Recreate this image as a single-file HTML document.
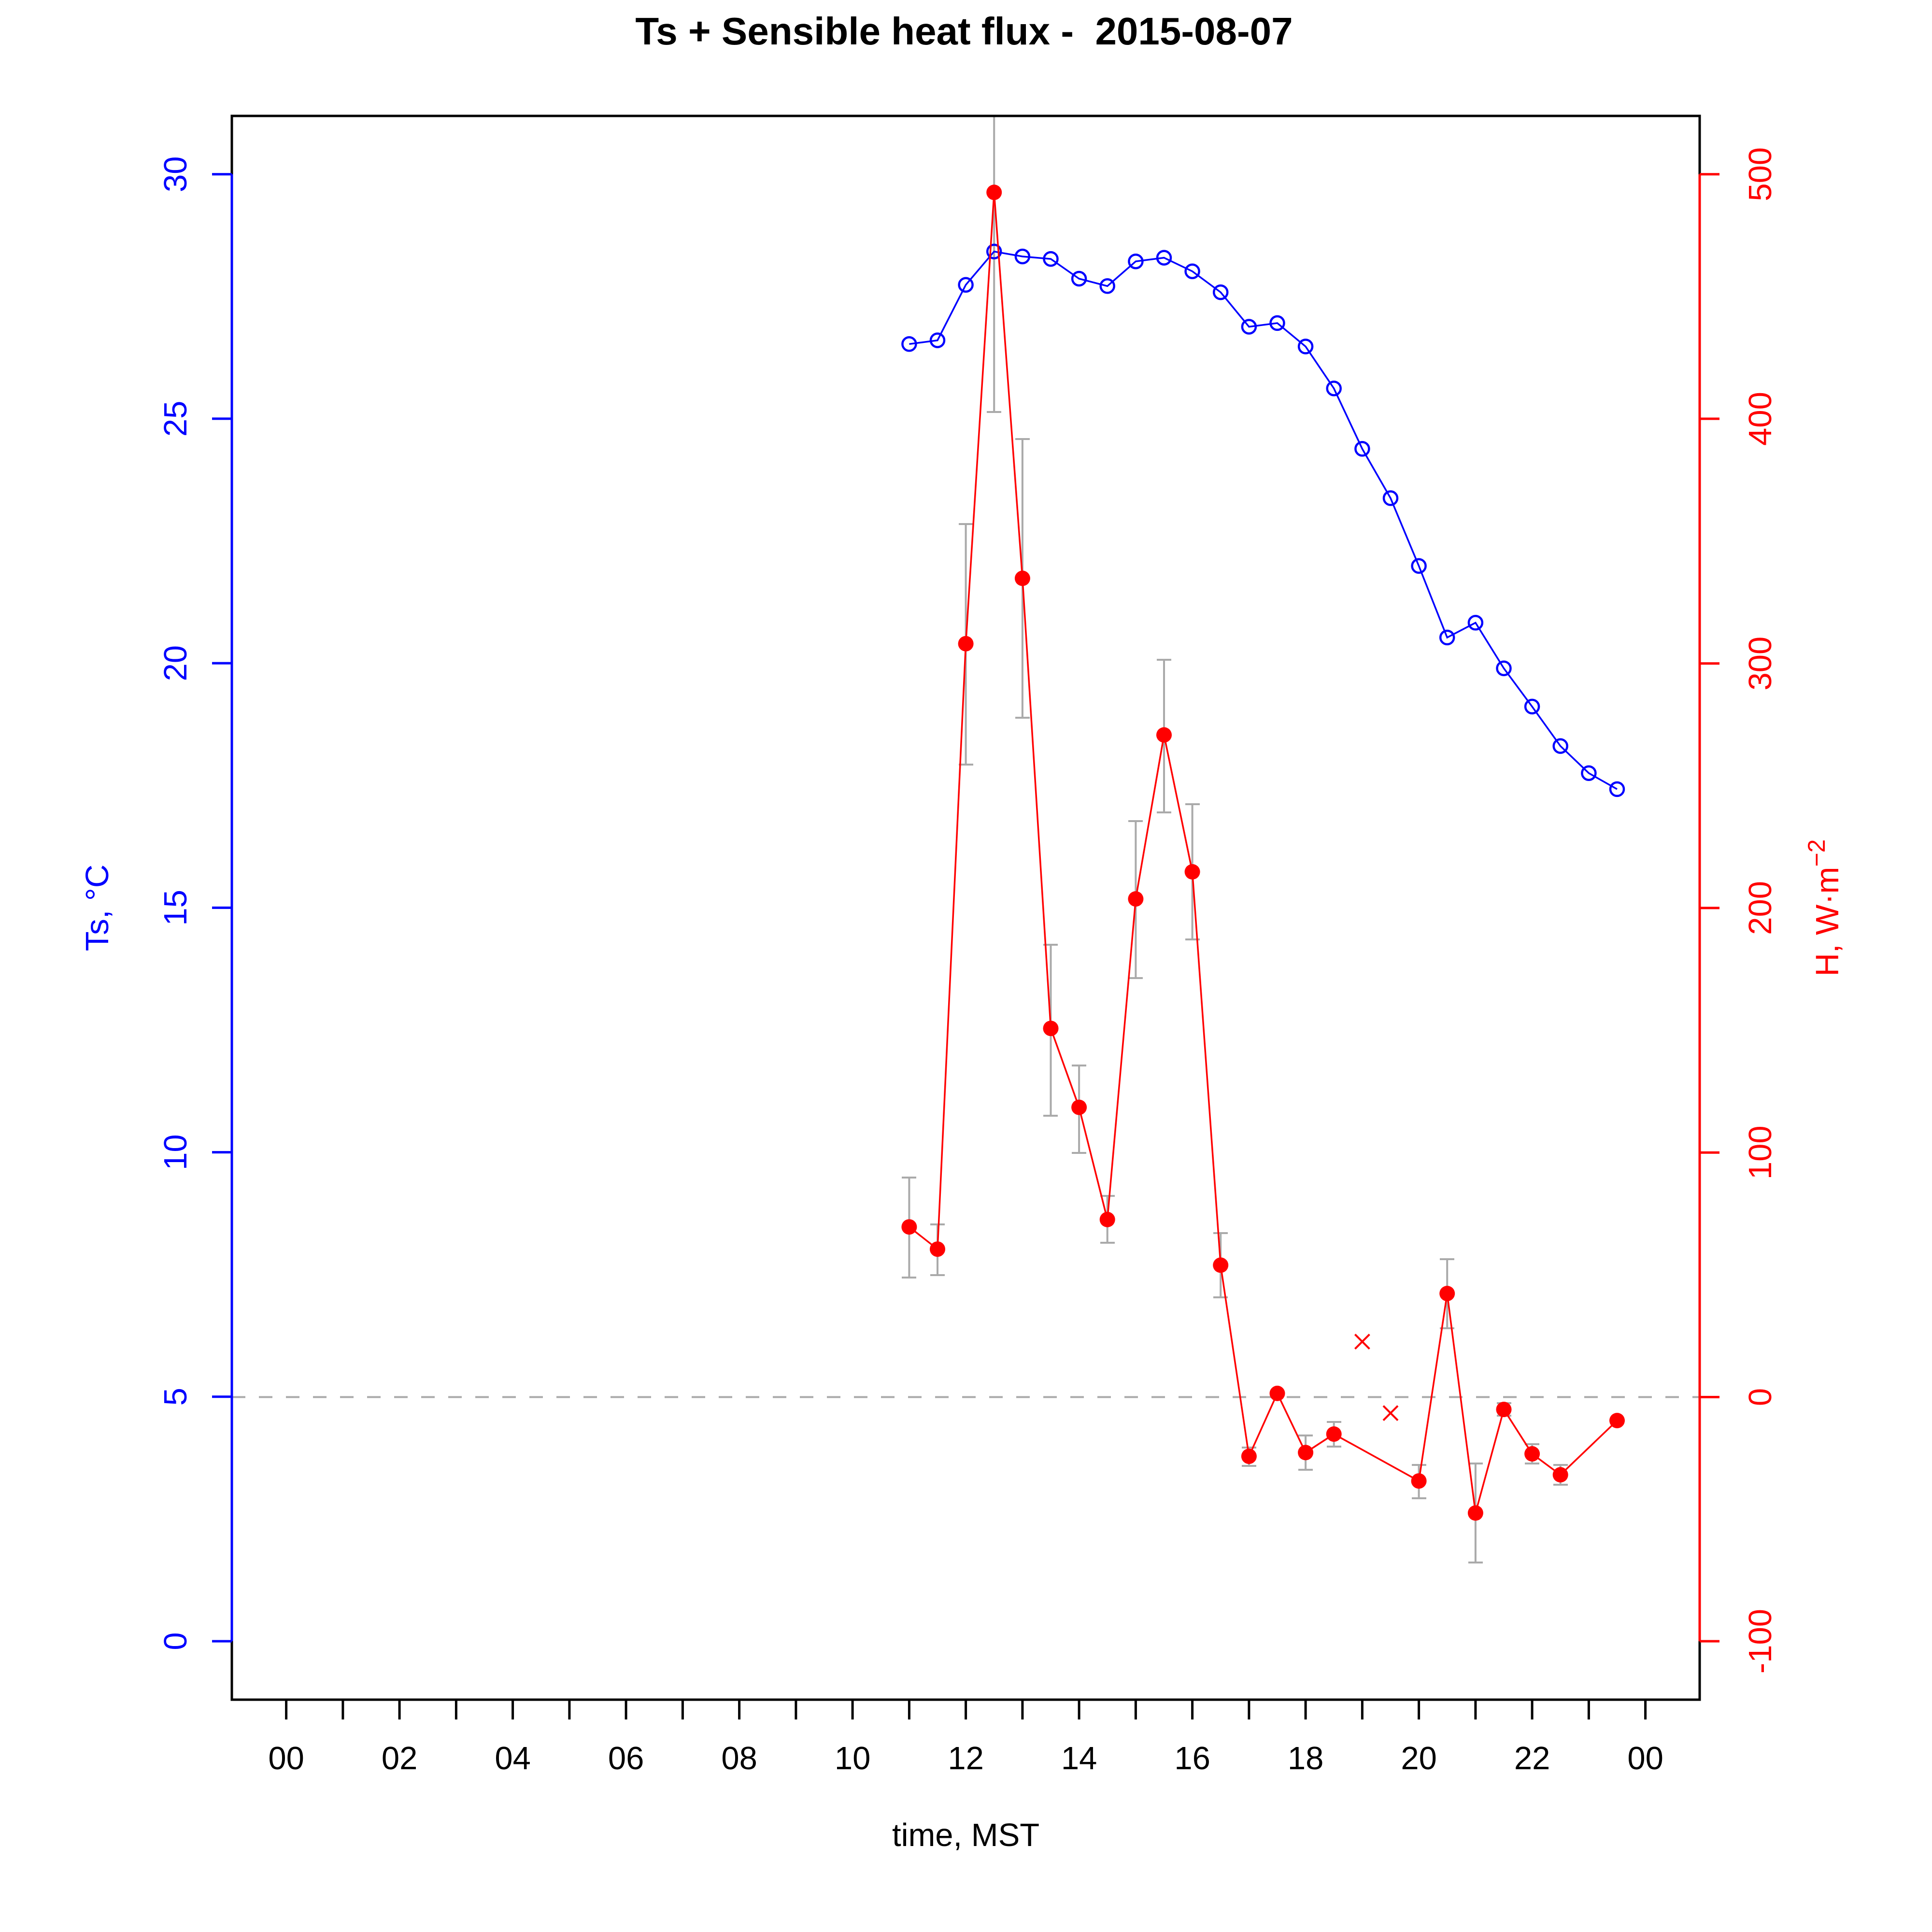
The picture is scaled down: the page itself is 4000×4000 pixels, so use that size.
<!DOCTYPE html>
<html><head><meta charset="utf-8"><style>html,body{margin:0;padding:0;background:#fff}svg{display:block}</style></head>
<body>
<svg width="4000" height="4000" viewBox="0 0 4000 4000" xmlns="http://www.w3.org/2000/svg" font-family="Liberation Sans, Arial, sans-serif">
<rect width="4000" height="4000" fill="#fff"/>
<text x="1996" y="92" font-size="80" font-weight="bold" text-anchor="middle">Ts + Sensible heat flux -&#160; 2015-08-07</text>
<line x1="480" y1="2892.5" x2="3519" y2="2892.5" stroke="#aaa" stroke-width="4" stroke-dasharray="28,28"/>
<g stroke="#aaa" stroke-width="4" fill="none">
<path d="M1882.4 2438V2645M1867 2438h30M1867 2645h30"/>
<path d="M1941 2535V2640M1926 2535h30M1926 2640h30"/>
<path d="M1999.6 1085V1583M1985 1085h30M1985 1583h30"/>
<path d="M2058.2 242V853M2043 853h30"/>
<path d="M2116.9 909V1486M2102 909h30M2102 1486h30"/>
<path d="M2175.5 1956V2310M2160 1956h30M2160 2310h30"/>
<path d="M2234.1 2206V2387M2219 2206h30M2219 2387h30"/>
<path d="M2292.7 2476V2573M2278 2476h30M2278 2573h30"/>
<path d="M2351.4 1700V2025M2336 1700h30M2336 2025h30"/>
<path d="M2410 1366V1682M2395 1366h30M2395 1682h30"/>
<path d="M2468.6 1665V1945M2454 1665h30M2454 1945h30"/>
<path d="M2527.2 2553V2686M2512 2553h30M2512 2686h30"/>
<path d="M2585.9 2997V3035M2571 2997h30M2571 3035h30"/>
<path d="M2703.1 2972V3043M2688 2972h30M2688 3043h30"/>
<path d="M2761.7 2944V2995M2747 2944h30M2747 2995h30"/>
<path d="M2937.6 3033V3102M2923 3033h30M2923 3102h30"/>
<path d="M2996.2 2607V2750M2981 2607h30M2981 2750h30"/>
<path d="M3054.9 3030V3235M3040 3030h30M3040 3235h30"/>
<path d="M3113.5 2905V2931M3099 2905h30M3099 2931h30"/>
<path d="M3172.1 2990V3030M3157 2990h30M3157 3030h30"/>
<path d="M3230.7 3033V3074M3216 3033h30M3216 3074h30"/>
</g>
<polyline fill="none" stroke="#0000ff" stroke-width="3.5" points="1882.4,712.3 1941,704.6 1999.6,589.7 2058.2,520.8 2116.9,531 2175.5,536.1 2234.1,577 2292.7,592.3 2351.4,541.2 2410,533.6 2468.6,561.7 2527.2,605.1 2585.9,676.5 2644.5,668.9 2703.1,717.4 2761.7,804.2 2820.4,929.3 2879,1031.4 2937.6,1171.8 2996.2,1319.9 3054.9,1289.3 3113.5,1383.7 3172.1,1462.9 3230.7,1544.6 3289.4,1600.7 3348,1633.9"/>
<g fill="none" stroke="#0000ff" stroke-width="4.5">
<circle cx="1882.4" cy="712.3" r="14"/><circle cx="1941" cy="704.6" r="14"/><circle cx="1999.6" cy="589.7" r="14"/><circle cx="2058.2" cy="520.8" r="14"/><circle cx="2116.9" cy="531" r="14"/><circle cx="2175.5" cy="536.1" r="14"/><circle cx="2234.1" cy="577" r="14"/><circle cx="2292.7" cy="592.3" r="14"/><circle cx="2351.4" cy="541.2" r="14"/><circle cx="2410" cy="533.6" r="14"/><circle cx="2468.6" cy="561.7" r="14"/><circle cx="2527.2" cy="605.1" r="14"/><circle cx="2585.9" cy="676.5" r="14"/><circle cx="2644.5" cy="668.9" r="14"/><circle cx="2703.1" cy="717.4" r="14"/><circle cx="2761.7" cy="804.2" r="14"/><circle cx="2820.4" cy="929.3" r="14"/><circle cx="2879" cy="1031.4" r="14"/><circle cx="2937.6" cy="1171.8" r="14"/><circle cx="2996.2" cy="1319.9" r="14"/><circle cx="3054.9" cy="1289.3" r="14"/><circle cx="3113.5" cy="1383.7" r="14"/><circle cx="3172.1" cy="1462.9" r="14"/><circle cx="3230.7" cy="1544.6" r="14"/><circle cx="3289.4" cy="1600.7" r="14"/><circle cx="3348" cy="1633.9" r="14"/>
</g>
<polyline fill="none" stroke="#ff0000" stroke-width="3.5" points="1882.4,2540.2 1941,2586.2 1999.6,1332.7 2058.2,398.3 2116.9,1197.4 2175.5,2129.2 2234.1,2292.6 2292.7,2524.9 2351.4,1861.1 2410,1521.6 2468.6,1805 2527.2,2619.4 2585.9,3015.1 2644.5,2884.9 2703.1,3007.4 2761.7,2969.1 2937.6,3066.2 2996.2,2678.1 3054.9,3132.5 3113.5,2918.1 3172.1,3010 3230.7,3053.4 3348,2941.1"/>
<g fill="#ff0000">
<circle cx="1882.4" cy="2540.2" r="16"/><circle cx="1941" cy="2586.2" r="16"/><circle cx="1999.6" cy="1332.7" r="16"/><circle cx="2058.2" cy="398.3" r="16"/><circle cx="2116.9" cy="1197.4" r="16"/><circle cx="2175.5" cy="2129.2" r="16"/><circle cx="2234.1" cy="2292.6" r="16"/><circle cx="2292.7" cy="2524.9" r="16"/><circle cx="2351.4" cy="1861.1" r="16"/><circle cx="2410" cy="1521.6" r="16"/><circle cx="2468.6" cy="1805" r="16"/><circle cx="2527.2" cy="2619.4" r="16"/><circle cx="2585.9" cy="3015.1" r="16"/><circle cx="2644.5" cy="2884.9" r="16"/><circle cx="2703.1" cy="3007.4" r="16"/><circle cx="2761.7" cy="2969.1" r="16"/><circle cx="2937.6" cy="3066.2" r="16"/><circle cx="2996.2" cy="2678.1" r="16"/><circle cx="3054.9" cy="3132.5" r="16"/><circle cx="3113.5" cy="2918.1" r="16"/><circle cx="3172.1" cy="3010" r="16"/><circle cx="3230.7" cy="3053.4" r="16"/><circle cx="3348" cy="2941.1" r="16"/>
</g>
<g stroke="#ff0000" stroke-width="4">
<path d="M2805.4 2762.7l30 30M2805.4 2792.7l30 -30"/>
<path d="M2864 2910.7l30 30M2864 2940.7l30 -30"/>
</g>
<rect x="480" y="240" width="3039" height="3279" fill="none" stroke="#000" stroke-width="5"/>
<g stroke="#0000ff" stroke-width="5">
<line x1="480" y1="3398" x2="480" y2="360.7"/>
<path d="M439 3398H480M439 2891.8H480M439 2385.6H480M439 1879.4H480M439 1373.1H480M439 866.9H480M439 360.7H480"/>
</g>
<g fill="#0000ff" font-size="67" text-anchor="middle">
<text transform="translate(386,3398) rotate(-90)">0</text>
<text transform="translate(386,2891.8) rotate(-90)">5</text>
<text transform="translate(386,2385.6) rotate(-90)">10</text>
<text transform="translate(386,1879.4) rotate(-90)">15</text>
<text transform="translate(386,1373.1) rotate(-90)">20</text>
<text transform="translate(386,866.9) rotate(-90)">25</text>
<text transform="translate(386,360.7) rotate(-90)">30</text>
<text transform="translate(224,1879.5) rotate(-90)">Ts, °C</text>
</g>
<g stroke="#ff0000" stroke-width="5">
<line x1="3519" y1="3398" x2="3519" y2="360.7"/>
<path d="M3519 3398H3560M3519 2892.5H3560M3519 2386.2H3560M3519 1879.9H3560M3519 1373.6H3560M3519 867H3560M3519 360.7H3560"/>
</g>
<g fill="#ff0000" font-size="67" text-anchor="middle">
<text transform="translate(3667,3398) rotate(-90)">-100</text>
<text transform="translate(3667,2892.5) rotate(-90)">0</text>
<text transform="translate(3667,2386.2) rotate(-90)">100</text>
<text transform="translate(3667,1879.9) rotate(-90)">200</text>
<text transform="translate(3667,1373.6) rotate(-90)">300</text>
<text transform="translate(3667,867) rotate(-90)">400</text>
<text transform="translate(3667,360.7) rotate(-90)">500</text>
<text transform="translate(3806,1879.5) rotate(-90)">H, W·m<tspan dy="-28" font-size="50">−2</tspan></text>
</g>
<g stroke="#000" stroke-width="5">
<path d="M592.6 3519v41M709.9 3519v41M827.1 3519v41M944.4 3519v41M1061.6 3519v41M1178.9 3519v41M1296.1 3519v41M1413.4 3519v41M1530.6 3519v41M1647.9 3519v41M1765.1 3519v41M1882.4 3519v41M1999.6 3519v41M2116.9 3519v41M2234.1 3519v41M2351.4 3519v41M2468.6 3519v41M2585.9 3519v41M2703.1 3519v41M2820.4 3519v41M2937.6 3519v41M3054.9 3519v41M3172.1 3519v41M3289.4 3519v41M3406.6 3519v41"/>
</g>
<g fill="#000" font-size="67" text-anchor="middle">
<text x="592.6" y="3663">00</text><text x="827.1" y="3663">02</text><text x="1061.6" y="3663">04</text><text x="1296.1" y="3663">06</text><text x="1530.6" y="3663">08</text><text x="1765.1" y="3663">10</text><text x="1999.6" y="3663">12</text><text x="2234.1" y="3663">14</text><text x="2468.6" y="3663">16</text><text x="2703.1" y="3663">18</text><text x="2937.6" y="3663">20</text><text x="3172.1" y="3663">22</text><text x="3406.6" y="3663">00</text>
<text x="1999.6" y="3822">time, MST</text>
</g>
</svg>
</body></html>
